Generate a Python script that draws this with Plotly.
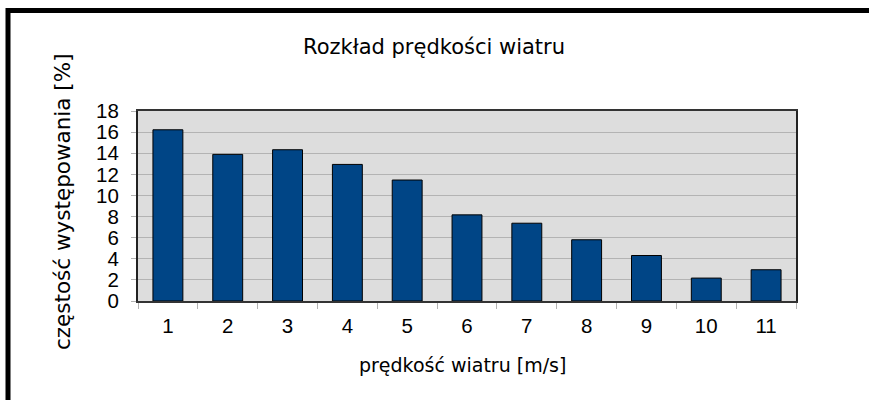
import plotly.graph_objects as go

categories = ["1", "2", "3", "4", "5", "6", "7", "8", "9", "10", "11"]
values = [16.22, 13.89, 14.33, 12.94, 11.46, 8.16, 7.37, 5.80, 4.31, 2.17, 2.96]
y_ticks = [0, 2, 4, 6, 8, 10, 12, 14, 16, 18]

W, H = 869, 400
L, R, T, B = 138, 73, 111, 99
pw, ph = W - L - R, H - T - B

def px_x(x):
    return (x - L) / pw

def px_y(y):
    return (H - B - y) / ph

fig = go.Figure(go.Bar(
    x=categories, y=values,
    marker=dict(color="#004586", line=dict(color="#000000", width=1)),
    width=0.5,
))

tick_font = dict(size=20.5, family="Liberation Sans", color="#000000")

fig.update_layout(
    width=W, height=H,
    margin=dict(l=L, r=R, t=T, b=B),
    paper_bgcolor="white",
    plot_bgcolor="#dddddd",
    showlegend=False,
    font=dict(family="Liberation Sans", color="#000000"),
    xaxis=dict(
        type="category", tickson="boundaries",
        ticks="outside", ticklen=6, tickcolor="#b3b3b3", tickwidth=1,
        showgrid=False,
        showline=True, linecolor="#333333", linewidth=2, mirror=True,
        tickfont=tick_font,
        ticklabelstandoff=5,
    ),
    yaxis=dict(
        range=[0, 18], tickvals=y_ticks,
        ticks="outside", ticklen=5, tickcolor="#b3b3b3", tickwidth=1,
        showgrid=True, gridcolor="#b3b3b3", gridwidth=1,
        zeroline=False,
        showline=True, linecolor="#222222", linewidth=2, mirror=True,
        tickfont=tick_font,
        ticklabelstandoff=8,
    ),
    annotations=[
        dict(text="Rozkład prędkości wiatru", xref="paper", yref="paper",
             x=px_x(434), y=px_y(47), showarrow=False,
             xanchor="center", yanchor="middle",
             font=dict(size=21, family="DejaVu Sans, sans-serif")),
        dict(text="prędkość wiatru [m/s]", xref="paper", yref="paper",
             x=px_x(462), y=px_y(365), showarrow=False,
             xanchor="center", yanchor="middle",
             font=dict(size=19, family="DejaVu Sans, sans-serif")),
        dict(text="częstość występowania [%]", xref="paper", yref="paper",
             x=px_x(62), y=px_y(202), showarrow=False, textangle=-90,
             xanchor="center", yanchor="middle",
             font=dict(size=21.5, family="DejaVu Sans, sans-serif")),
    ],
    shapes=[
        dict(type="rect", xref="paper", yref="paper",
             x0=px_x(8), x1=px_x(890), y0=px_y(10.5), y1=px_y(420),
             line=dict(color="#000000", width=5), fillcolor="rgba(0,0,0,0)",
             layer="above"),
    ],
)

fig.write_html("out.html",
               config={"displayModeBar": False},
               post_script="document.body.style.margin='0';document.body.style.overflow='hidden';")
